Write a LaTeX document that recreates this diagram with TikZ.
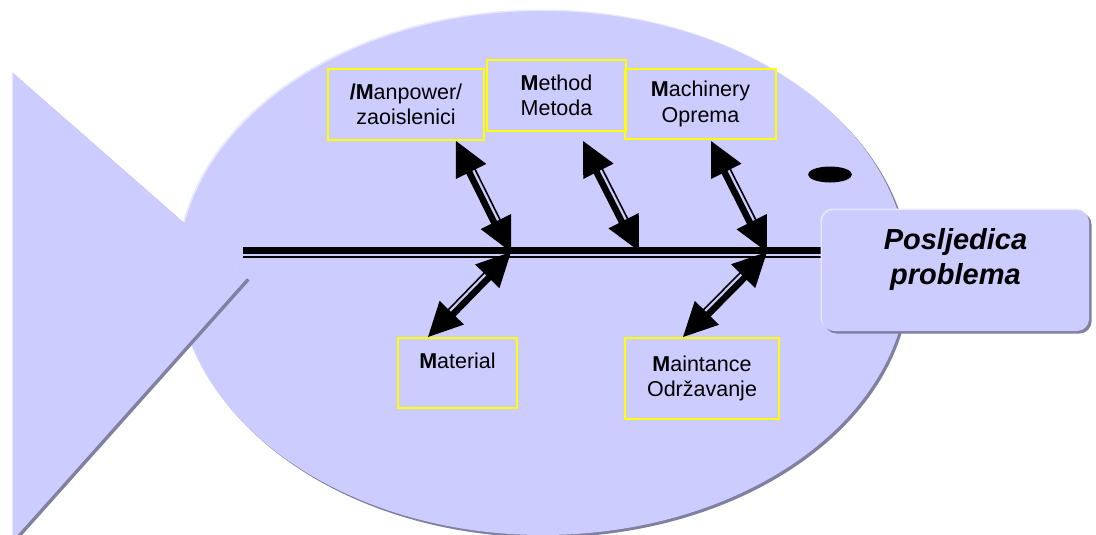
\documentclass[tikz,border=0pt]{standalone}
\usepackage{fontspec}
\setmainfont{Liberation Sans}
\usetikzlibrary{calc}

\definecolor{fishfill}{HTML}{CCCCFF}
\definecolor{fishshade}{HTML}{8080A0}
\definecolor{fishlight}{HTML}{E8E8FF}
\definecolor{causeline}{HTML}{FFFF00}

% double-headed cause arrow with a thick-thin shaft, from spine point #1 to cause point #2
\newcommand\causeconnector[2]{%
  \coordinate (ca1) at ($(#1)!30pt!(#2)$);
  \coordinate (ca2) at ($(#2)!30pt!(#1)$);
  \draw[line width=6.5pt] ($(ca1)!2pt!90:(#2)$) -- ($(ca2)!2pt!-90:(#1)$);
  \draw[line width=1.6pt] ($(ca1)!4.5pt!-90:(#2)$) -- ($(ca2)!4.5pt!90:(#1)$);
  \coordinate (hb1) at ($(#1)!34pt!(#2)$);
  \fill (#1) -- ($(hb1)!17pt!90:(#2)$) -- ($(hb1)!17pt!-90:(#2)$) -- cycle;
  \coordinate (hb2) at ($(#2)!34pt!(#1)$);
  \fill (#2) -- ($(hb2)!17pt!90:(#1)$) -- ($(hb2)!17pt!-90:(#1)$) -- cycle;
}

\begin{document}
\begin{tikzpicture}[x=1pt,y=-1pt,
  fishbody/.style={fill=fishfill,
    preaction={fill=fishlight, transform canvas={shift={(-1.5,-1.5)}}},
    preaction={fill=fishshade, transform canvas={shift={(2.5,2.5)}}}},
  causebox/.style={draw=causeline, line width=1.5pt, align=center,
    inner sep=0pt, font=\fontsize{21.5}{25.5}\selectfont},
  effectbox/.style={fishbody, rounded corners=12pt, align=center,
    minimum width=267pt, minimum height=121pt, inner sep=0pt,
    font=\fontsize{29}{35}\selectfont\bfseries\itshape}]

\useasboundingbox (0,0) rectangle (1096,535);
\begin{scope}
\clip (0,0) rectangle (1096,535);

% body and tail
\path[fishbody] (543,273) ellipse [x radius=365, y radius=262];
\path[fishbody] (13,73) -- (247,278) -- (13,540) -- cycle;

% eye
\fill (830,174.5) ellipse [x radius=22, y radius=8];

% spine
\coordinate (spine-start) at (243,252.6);
\coordinate (spine-end) at (826,252.6);
\draw[line width=6.5pt] ($(spine-start)!2pt!90:(spine-end)$) -- ($(spine-end)!2pt!-90:(spine-start)$);
\draw[line width=1.6pt] ($(spine-start)!4.5pt!-90:(spine-end)$) -- ($(spine-end)!4.5pt!90:(spine-start)$);

% cause boxes
\node[causebox, minimum width=156pt, minimum height=71pt] (manpower) at (406,104.5)
  {\textbf{/M}anpower/\\zaoislenici};
\node[causebox, minimum width=139pt, minimum height=71pt] (method) at (556.5,95.5)
  {\textbf{M}ethod\\Metoda};
\node[causebox, minimum width=151pt, minimum height=70pt] (machinery) at (700.5,104)
  {\textbf{M}achinery\\Oprema};
\node[causebox, minimum width=119pt, minimum height=70pt] (material) at (457.5,373)
  {\textbf{M}aterial\\\mbox{}};
\node[causebox, minimum width=154pt, minimum height=81pt] (maintance) at (702,378.5)
  {\textbf{M}aintance\\Održavanje};

% arrow end points
\coordinate (j1) at (511,252);
\coordinate (j2) at (639,251);
\coordinate (j3) at (767,252);
\coordinate (manpower-end) at (456,141);
\coordinate (method-end) at (583,141);
\coordinate (machinery-end) at (711,141);
\coordinate (material-end) at (428,337);
\coordinate (maintance-end) at (683,337);

\causeconnector{j1}{manpower-end}
\causeconnector{j2}{method-end}
\causeconnector{j3}{machinery-end}
\causeconnector{j1}{material-end}
\causeconnector{j3}{maintance-end}

% effect
\node[effectbox] (effect) at (955.5,270.5)
  {Posljedica\\problema\\[-6pt]\mbox{}};
\end{scope}
\end{tikzpicture}
\end{document}
